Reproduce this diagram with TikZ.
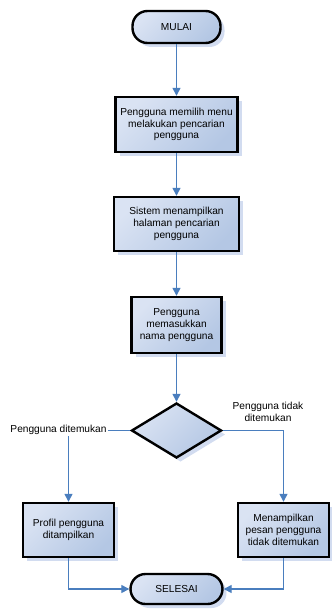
\documentclass[tikz,border=0pt]{standalone}
\usepackage{fontspec}
\setmainfont{Liberation Sans}
\usetikzlibrary{shapes.geometric,arrows.meta,shadows}

\definecolor{fillLight}{RGB}{218,227,243}
\definecolor{fillDark}{RGB}{180,199,228}
\definecolor{shadowBlue}{RGB}{210,220,240}
\definecolor{linkBlue}{RGB}{74,126,190}

\newcommand{\flowfont}{\fontsize{10.2}{11.8}\selectfont}

\tikzset{
  base/.style={draw=black, line width=2.4bp,
    top color=fillLight, bottom color=fillDark, shading angle=45,
    general shadow={fill=shadowBlue, shadow xshift=4bp, shadow yshift=-4bp},
    align=center, inner sep=0pt, font=\flowfont},
  procbox/.style={base, rectangle},
  terminal/.style={base, rectangle, rounded corners=15bp},
  decision/.style={base, diamond, aspect=1.64},
  conn/.style={draw=linkBlue, line width=1.3bp,
    -{Triangle[length=8bp,width=8bp]}},
  lbl/.style={font=\flowfont, align=center, inner sep=1bp}
}

\begin{document}
\begin{tikzpicture}[x=1bp, y=-1bp]
  \useasboundingbox (0,0) rectangle (331,615);

  % main column
  \node[terminal, minimum width=88bp, minimum height=32bp] (start) at (176.5,27) {MULAI};
  \node[procbox, minimum width=122bp, minimum height=55bp] (b1) at (176.5,124.5)
    {Pengguna memilih menu\\melakukan pencarian\\pengguna};
  \node[procbox, minimum width=125bp, minimum height=54bp] (b2) at (176.5,224)
    {Sistem menampilkan\\halaman pencarian\\pengguna};
  \node[procbox, minimum width=90bp, minimum height=56bp] (b3) at (176.5,325)
    {Pengguna\\memasukkan\\nama pengguna};
  \node[decision, minimum width=90bp, minimum height=55bp] (dec) at (176.5,430.5) {};

  % outcome branches
  \node[procbox, minimum width=91bp, minimum height=54bp] (found) at (68.5,530)
    {Profil pengguna\\ditampilkan};
  \node[procbox, minimum width=91bp, minimum height=54bp] (notfound) at (283.5,530)
    {Menampilkan\\pesan pengguna\\tidak ditemukan};
  \node[terminal, minimum width=92bp, minimum height=30bp] (stop) at (176.5,589) {SELESAI};

  % connectors
  \draw[conn] (start) -- (b1);
  \draw[conn] (b1) -- (b2);
  \draw[conn] (b2) -- (b3);
  \draw[conn] (b3) -- (dec);
  \draw[conn] (dec.west) -| (found.north);
  \draw[conn] (dec.east) -| (notfound.north);
  \draw[conn] (found.south) |- (stop.west);
  \draw[conn] (notfound.south) |- (stop.east);

  % branch labels
  \node[lbl, fill=white] (yeslbl) at (58.5,430) {Pengguna ditemukan};
  \node[lbl] (nolbl) at (268,412) {Pengguna tidak\\ditemukan};
\end{tikzpicture}
\end{document}
